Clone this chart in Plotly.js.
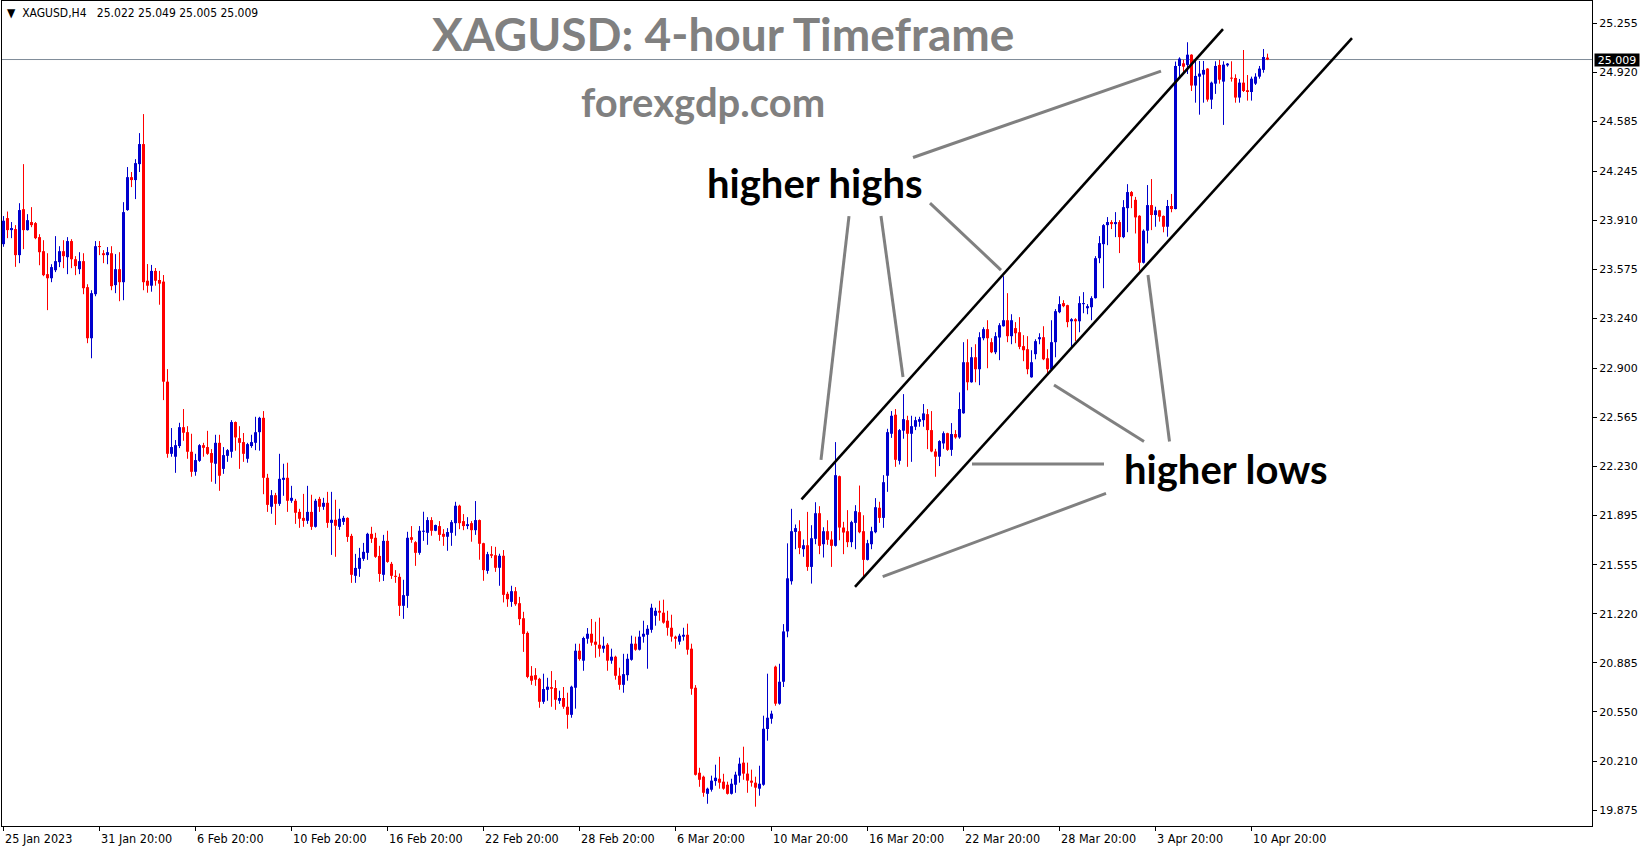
<!DOCTYPE html>
<html><head><meta charset="utf-8">
<script src="https://cdn.plot.ly/plotly-3.0.1.min.js"></script>
<style>html,body{margin:0;padding:0;background:#fff;overflow:hidden}#chart{width:1649px;height:850px}</style>
</head><body><div id="chart"></div>
<script>
// ---- DATA (XAGUSD H4) ----
const openP = [
23.747,23.925,23.843,23.850,23.672,23.986,23.843,23.898,23.891,23.795,
23.699,23.542,23.514,23.569,23.624,23.699,23.658,23.768,23.644,23.576,
23.631,23.453,23.104,23.405,23.733,23.685,23.672,23.685,23.467,23.576,
23.487,23.980,24.205,24.185,24.294,24.431,23.497,23.463,23.564,23.502,
23.491,22.807,22.314,22.294,22.367,22.496,22.462,22.328,22.191,22.266,
22.373,22.360,22.319,22.246,22.389,22.211,22.300,22.328,22.531,22.421,
22.394,22.280,22.367,22.389,22.462,22.560,22.150,21.952,22.031,21.972,
22.136,22.150,21.993,21.993,21.917,21.876,21.856,21.917,21.815,22.006,
21.952,21.979,21.842,21.863,21.815,21.849,21.876,21.753,21.480,21.528,
21.596,21.637,21.767,21.740,21.616,21.487,21.719,21.562,21.480,21.473,
21.275,21.343,21.744,21.710,21.637,21.781,21.774,21.861,21.788,21.820,
21.767,21.747,21.774,21.840,21.959,21.854,21.820,21.840,21.792,21.861,
21.703,21.514,21.628,21.621,21.535,21.617,21.357,21.302,21.375,21.293,
21.190,21.090,20.797,20.801,20.776,20.619,20.701,20.719,20.713,20.626,
20.645,20.585,20.530,20.715,20.968,20.900,21.050,21.084,21.030,21.009,
20.982,21.009,20.900,20.927,20.797,20.735,20.801,20.906,21.016,20.975,
21.064,21.077,21.111,21.207,21.241,21.228,21.173,21.125,21.064,21.030,
21.064,21.077,20.982,20.715,20.134,20.107,19.990,20.018,20.077,20.093,
20.073,20.052,19.990,20.052,20.114,20.203,20.128,20.080,20.066,20.025,
20.052,20.433,20.503,20.859,20.606,20.756,21.100,21.443,21.780,21.785,
21.662,21.689,21.541,21.733,21.908,21.696,21.785,21.728,21.685,22.161,
21.810,21.785,21.710,21.842,21.915,21.785,21.589,21.696,21.778,21.945,
21.876,22.164,22.451,22.581,22.266,22.472,22.544,22.451,22.499,22.533,
22.544,22.585,22.476,22.330,22.294,22.385,22.455,22.341,22.449,22.426,
22.591,22.940,22.803,22.974,22.892,23.104,23.166,23.077,23.008,23.109,
23.186,23.227,23.118,23.173,23.145,23.050,23.029,22.837,22.995,23.097,
23.111,22.967,22.892,23.077,23.282,23.344,23.330,23.220,23.234,23.220,
23.337,23.309,23.316,23.378,23.651,23.747,23.877,23.898,23.884,23.898,
23.795,23.993,24.103,24.050,23.941,23.620,23.839,24.014,23.946,23.978,
23.940,23.866,24.008,23.987,24.965,24.983,24.972,25.042,24.831,24.892,
24.906,24.947,24.735,24.844,24.972,24.858,24.969,24.883,24.883,24.749,
24.851,24.799,24.787,24.844,24.892,24.938,25.022];
const highP = [
23.939,23.970,23.898,23.877,24.027,24.294,23.952,24.000,23.898,23.815,
23.774,23.685,23.610,23.802,23.733,23.774,23.795,23.781,23.665,23.692,
23.685,23.473,23.432,23.768,23.768,23.706,23.727,23.733,23.679,23.692,
24.034,24.274,24.240,24.328,24.506,24.636,23.611,23.605,23.584,23.564,
23.536,22.893,22.490,22.408,22.526,22.620,22.503,22.451,22.314,22.380,
22.389,22.471,22.346,22.444,22.444,22.360,22.346,22.544,22.535,22.503,
22.456,22.389,22.444,22.567,22.567,22.606,22.177,22.066,22.047,22.314,
22.246,22.253,22.095,22.006,21.938,22.040,22.095,22.034,22.006,22.020,
22.013,22.054,22.054,22.000,21.938,21.890,21.880,21.767,21.630,21.671,
21.705,21.774,21.815,21.774,21.685,21.760,21.788,21.575,21.519,21.496,
21.453,21.781,21.820,21.717,21.820,21.918,21.881,21.881,21.830,21.854,
21.799,21.806,21.861,21.986,21.966,21.902,21.881,21.854,21.991,21.865,
21.706,21.644,21.683,21.678,21.631,21.656,21.371,21.412,21.403,21.336,
21.234,21.100,20.863,20.849,20.783,20.811,20.783,20.829,20.767,20.695,
20.720,20.681,20.729,21.016,21.016,21.064,21.123,21.185,21.166,21.194,
21.064,21.020,20.982,20.934,20.852,20.947,20.947,21.071,21.064,21.105,
21.173,21.143,21.289,21.262,21.310,21.317,21.241,21.214,21.071,21.084,
21.125,21.153,21.016,20.733,20.168,20.114,20.032,20.114,20.189,20.243,
20.127,20.073,20.093,20.141,20.237,20.312,20.203,20.155,20.107,20.182,
20.524,20.811,20.558,20.866,20.879,21.150,21.702,21.938,21.831,21.860,
21.728,21.917,21.826,21.983,21.956,21.812,21.860,21.785,22.394,22.165,
21.849,21.929,21.856,21.963,22.097,21.894,21.726,21.815,22.011,21.986,
22.168,22.485,22.606,22.620,22.483,22.722,22.574,22.574,22.567,22.567,
22.654,22.620,22.606,22.348,22.407,22.467,22.458,22.524,22.476,22.734,
23.077,23.097,23.043,23.063,23.145,23.179,23.227,23.104,23.145,23.207,
23.528,23.412,23.268,23.214,23.248,23.125,23.118,23.022,23.097,23.138,
23.186,23.029,23.227,23.303,23.391,23.364,23.333,23.241,23.241,23.391,
23.419,23.337,23.391,23.665,23.802,23.884,23.932,23.911,23.966,23.911,
24.048,24.157,24.110,24.070,23.945,23.848,24.151,24.192,24.003,23.981,
23.943,24.049,24.090,24.995,25.024,25.006,25.127,25.045,25.001,24.999,
24.999,24.950,24.858,24.997,25.006,24.997,24.985,24.997,24.908,24.876,
25.074,24.903,24.892,24.915,24.965,25.081,25.049];
const lowP = [
23.729,23.788,23.788,23.592,23.617,23.713,23.840,23.863,23.781,23.603,
23.528,23.296,23.487,23.556,23.590,23.583,23.542,23.583,23.535,23.542,
23.405,23.070,22.967,23.391,23.672,23.617,23.610,23.432,23.412,23.357,
23.364,23.975,24.137,24.055,24.240,23.432,23.415,23.422,23.463,23.333,
22.681,22.287,22.294,22.184,22.353,22.403,22.280,22.157,22.164,22.259,
22.294,22.307,22.123,22.109,22.061,22.177,22.259,22.287,22.335,22.211,
22.259,22.253,22.355,22.339,22.335,22.038,21.917,21.904,21.828,21.958,
22.027,21.917,21.979,21.835,21.808,21.815,21.835,21.794,21.810,21.917,
21.931,21.808,21.623,21.610,21.794,21.828,21.712,21.432,21.432,21.473,
21.582,21.589,21.705,21.603,21.439,21.445,21.569,21.459,21.432,21.206,
21.186,21.261,21.706,21.548,21.624,21.719,21.692,21.754,21.785,21.719,
21.685,21.651,21.685,21.754,21.799,21.792,21.799,21.713,21.760,21.590,
21.446,21.494,21.601,21.507,21.412,21.298,21.268,21.268,21.275,21.143,
20.960,20.780,20.735,20.728,20.578,20.605,20.626,20.585,20.564,20.605,
20.571,20.435,20.510,20.572,20.900,20.831,21.016,21.002,20.920,20.927,
20.954,20.831,20.879,20.770,20.701,20.681,20.763,20.900,20.968,20.970,
21.023,20.845,21.091,21.139,21.173,21.153,21.071,21.030,20.982,21.009,
21.037,20.941,20.667,20.115,20.038,19.970,19.922,20.005,20.045,20.025,
20.018,19.985,19.985,19.997,20.066,20.086,19.997,20.039,19.902,19.977,
20.045,20.353,20.469,20.592,20.599,20.720,21.060,21.420,21.662,21.628,
21.610,21.514,21.427,21.696,21.628,21.605,21.692,21.541,21.680,21.723,
21.628,21.676,21.676,21.662,21.771,21.473,21.585,21.662,21.771,21.842,
21.808,22.054,22.423,22.225,22.241,22.417,22.225,22.259,22.476,22.499,
22.499,22.346,22.325,22.157,22.230,22.348,22.334,22.300,22.417,22.417,
22.588,22.748,22.800,22.803,22.783,23.090,22.899,23.002,22.995,22.954,
23.183,23.077,23.063,23.070,23.029,22.947,22.858,22.834,22.960,23.063,
22.954,22.858,22.885,22.974,23.275,23.316,23.179,23.043,23.084,23.145,
23.275,23.268,23.227,23.375,23.617,23.446,23.740,23.850,23.795,23.686,
23.788,23.829,23.993,23.820,23.565,23.615,23.752,23.843,23.866,23.901,
23.828,23.798,23.965,23.985,24.892,24.913,24.910,24.794,24.714,24.632,
24.714,24.721,24.671,24.774,24.844,24.562,24.960,24.858,24.714,24.714,
24.787,24.728,24.728,24.835,24.878,24.919,25.005];
const closeP = [
23.907,23.843,23.857,23.672,23.980,23.843,23.911,23.877,23.788,23.692,
23.535,23.514,23.590,23.631,23.699,23.665,23.768,23.644,23.597,23.631,
23.446,23.104,23.412,23.733,23.727,23.672,23.692,23.460,23.576,23.487,
23.966,24.205,24.185,24.301,24.431,23.487,23.463,23.564,23.497,23.477,
22.807,22.314,22.360,22.373,22.496,22.458,22.328,22.191,22.271,22.373,
22.355,22.314,22.253,22.389,22.164,22.305,22.339,22.531,22.426,22.389,
22.314,22.380,22.394,22.462,22.560,22.150,21.965,22.031,21.972,22.143,
22.150,21.993,22.013,21.911,21.870,21.856,21.917,21.815,21.993,21.952,
21.979,21.842,21.863,21.822,21.870,21.876,21.746,21.487,21.534,21.603,
21.644,21.767,21.733,21.610,21.493,21.719,21.575,21.480,21.473,21.275,
21.348,21.740,21.726,21.637,21.788,21.788,21.861,21.788,21.827,21.760,
21.747,21.779,21.847,21.959,21.840,21.820,21.833,21.792,21.861,21.699,
21.519,21.628,21.617,21.535,21.617,21.350,21.320,21.375,21.286,21.184,
21.083,20.789,20.763,20.770,20.619,20.706,20.722,20.708,20.633,20.645,
20.585,20.530,20.722,20.968,20.911,21.055,21.084,21.023,21.009,20.982,
21.002,20.900,20.927,20.797,20.735,20.808,20.913,21.016,20.975,21.064,
21.084,21.118,21.262,21.241,21.228,21.160,21.125,21.064,21.050,21.071,
21.077,20.975,20.708,20.120,20.086,19.997,20.025,20.080,20.100,20.066,
20.025,19.990,20.059,20.121,20.196,20.128,20.080,20.066,20.032,20.059,
20.435,20.510,20.538,20.606,20.756,21.100,21.463,21.785,21.806,21.671,
21.689,21.541,21.737,21.908,21.685,21.785,21.726,21.685,22.168,21.810,
21.776,21.710,21.847,21.922,21.778,21.589,21.703,21.785,21.949,21.876,
22.120,22.462,22.574,22.273,22.476,22.551,22.451,22.503,22.544,22.551,
22.590,22.476,22.330,22.294,22.401,22.455,22.341,22.449,22.426,22.620,
22.940,22.803,22.974,22.892,23.111,23.166,23.104,23.008,23.118,23.193,
23.227,23.118,23.227,23.138,23.045,23.022,22.892,22.940,23.084,23.111,
22.960,22.892,23.077,23.289,23.337,23.323,23.214,23.234,23.220,23.344,
23.344,23.323,23.378,23.651,23.754,23.877,23.898,23.884,23.898,23.795,
24.000,24.103,24.075,23.930,23.620,23.839,24.014,23.946,23.978,23.935,
23.866,24.008,23.987,24.965,25.015,24.960,25.042,24.831,24.897,24.913,
24.938,24.735,24.851,24.965,24.871,24.974,24.981,24.878,24.749,24.851,
24.794,24.787,24.878,24.892,24.947,25.026,25.009];

const xTickIdx = [0,24,48,72,96,120,144,168,192,216,240,264,288,312];
const xTickLabels = ["25 Jan 2023","31 Jan 20:00","6 Feb 20:00","10 Feb 20:00","16 Feb 20:00","22 Feb 20:00","28 Feb 20:00","6 Mar 20:00","10 Mar 20:00","16 Mar 20:00","22 Mar 20:00","28 Mar 20:00","3 Apr 20:00","10 Apr 20:00"];
const yTickLabels = ["25.255","24.920","24.585","24.245","23.910","23.575","23.240","22.900","22.565","22.230","21.895","21.555","21.220","20.885","20.550","20.210","19.875"];
const symbolName = "XAGUSD,H4";
const chartTitle = "XAGUSD: 4-hour Timeframe";
const siteName = "forexgdp.com";
const labelHighs = "higher highs";
const labelLows = "higher lows";

// ---- drawn trend lines (index, price) ----
const channelLines = [[199.5,22.002,304.875,25.217],[212.875,21.404,337.125,25.156]];
const pointerLines = [[227.375,24.339,289.375,24.930],[211.375,23.939,204.375,22.272],[219.375,23.939,224.875,22.839],[231.625,24.028,249.375,23.570],[262.625,22.784,285.125,22.398],[286.125,23.536,291.5,22.398],[242.125,22.244,275.125,22.244],[219.8,21.474,275.625,22.043]];

// ---- layout geometry ----
const W=1649,H=850,ML=2,MR=57,MT=1,MB=24;
const PW=W-ML-MR, PH=H-MT-MB;
const px = x => (x-ML)/PW;
const py = y => (H-MB-y)/PH;
const UP='#0000CD', DN='#FF0000';
const n = closeP.length;
const last = n-1;

const upB={x:[],base:[],y:[]}, dnB={x:[],base:[],y:[]};
const upW={x:[],y:[]}, dnW={x:[],y:[]};
for(let i=0;i<n;i++){
  const o=openP[i], c=closeP[i];
  const up=c>=o;
  const b=up?upB:dnB, w=up?upW:dnW;
  b.x.push(i); b.base.push(Math.min(o,c)); b.y.push(Math.max(Math.abs(c-o),0.0072));
  w.x.push(i,i,null); w.y.push(lowP[i],highP[i],null);
}
const traces=[
  {type:'scatter',mode:'lines',x:upW.x,y:upW.y,line:{color:UP,width:1},hoverinfo:'skip',showlegend:false},
  {type:'scatter',mode:'lines',x:dnW.x,y:dnW.y,line:{color:DN,width:1},hoverinfo:'skip',showlegend:false},
  {type:'bar',x:upB.x,base:upB.base,y:upB.y,width:0.75,marker:{color:UP,line:{width:0}},hoverinfo:'skip',showlegend:false},
  {type:'bar',x:dnB.x,base:dnB.base,y:dnB.y,width:0.75,marker:{color:DN,line:{width:0}},hoverinfo:'skip',showlegend:false}
];

const shapes=[{type:'line',xref:'paper',x0:0,x1:1,yref:'y',y0:closeP[last],y1:closeP[last],line:{color:'#7f8c99',width:1},layer:'below'}];
channelLines.forEach(l=>shapes.push({type:'line',xref:'x',yref:'y',x0:l[0],y0:l[1],x1:l[2],y1:l[3],line:{color:'#000',width:2.6}}));
pointerLines.forEach(l=>shapes.push({type:'line',xref:'x',yref:'y',x0:l[0],y0:l[1],x1:l[2],y1:l[3],line:{color:'#808080',width:3}}));

const NB='\u00a0';
const ann=[
  {xref:'paper',yref:'paper',x:px(5),y:py(13),xanchor:'left',yanchor:'middle',showarrow:false,
   text:'\u25BC'+NB+NB+symbolName+NB+NB+NB+[openP[last],highP[last],lowP[last],closeP[last]].map(v=>v.toFixed(3)).join(' '),
   font:{family:'DejaVu Sans Condensed, DejaVu Sans, sans-serif',size:12,color:'#000'}},
  {xref:'paper',yref:'paper',x:px(723),y:py(33),xanchor:'center',yanchor:'middle',showarrow:false,
   text:'<b>'+chartTitle+'</b>',font:{family:'Lato, Open Sans, sans-serif',size:46,color:'#808080'}},
  {xref:'paper',yref:'paper',x:px(703),y:py(102),xanchor:'center',yanchor:'middle',showarrow:false,
   text:'<b>'+siteName+'</b>',font:{family:'Lato, Open Sans, sans-serif',size:40,color:'#808080'}},
  {xref:'paper',yref:'paper',x:px(815),y:py(183),xanchor:'center',yanchor:'middle',showarrow:false,
   text:'<b>'+labelHighs+'</b>',font:{family:'Lato, Open Sans, sans-serif',size:40,color:'#000'}},
  {xref:'paper',yref:'paper',x:px(1226),y:py(469),xanchor:'center',yanchor:'middle',showarrow:false,
   text:'<b>'+labelLows+'</b>',font:{family:'Lato, Open Sans, sans-serif',size:40,color:'#000'}},
  {xref:'paper',yref:'y',x:px(1594),y:closeP[last],xanchor:'left',yanchor:'middle',showarrow:false,
   text:closeP[last].toFixed(3),bgcolor:'#000',borderpad:0,width:44,height:12,align:'center',
   font:{family:'DejaVu Sans, sans-serif',size:11,color:'#fff'}}
];
xTickIdx.forEach((t,k)=>ann.push({xref:'x',yref:'paper',x:t,y:py(838),xanchor:'left',yanchor:'middle',showarrow:false,
  text:xTickLabels[k],borderpad:0,font:{family:'DejaVu Sans Condensed, DejaVu Sans, sans-serif',size:12.5,color:'#000'}}));

const layout={
  width:W,height:H,margin:{l:ML,r:MR,t:MT,b:MB,pad:0},
  paper_bgcolor:'#fff',plot_bgcolor:'#fff',barmode:'overlay',showlegend:false,
  xaxis:{range:[-0.375,397.125],showgrid:false,zeroline:false,showline:true,mirror:true,linecolor:'#000',linewidth:1,
    tickvals:xTickIdx,ticks:'outside',ticklen:4,tickcolor:'#000',showticklabels:false,fixedrange:true},
  yaxis:{range:[19.770,25.409],side:'right',showgrid:false,zeroline:false,showline:true,mirror:true,linecolor:'#000',linewidth:1,
    tickvals:yTickLabels.map(Number),ticktext:yTickLabels,ticks:'outside',ticklen:4,tickcolor:'#000',
    tickfont:{family:'DejaVu Sans, sans-serif',size:11,color:'#000'},fixedrange:true},
  shapes:shapes,annotations:ann
};
Plotly.newPlot('chart',traces,layout,{displayModeBar:false,staticPlot:true});
</script></body></html>
